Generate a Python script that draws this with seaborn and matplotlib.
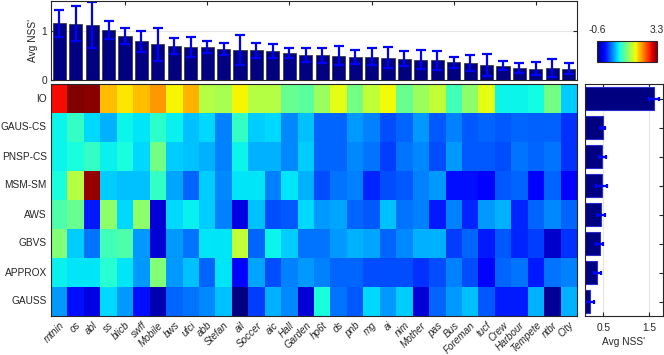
import numpy as np
import pandas as pd
import matplotlib
matplotlib.use('Agg')
import matplotlib.pyplot as plt
import seaborn as sns

sns.set_style('white')
plt.rcParams['font.family'] = ['Liberation Sans', 'DejaVu Sans']
plt.rcParams['text.color'] = '0.15'
plt.rcParams['axes.labelcolor'] = '0.15'
plt.rcParams['xtick.color'] = '0.15'
plt.rcParams['ytick.color'] = '0.15'

sequences = ['mtnin', 'os', 'abl', 'ss', 'blicb', 'swff', 'Mobile', 'bws',
             'ufci', 'abb', 'Stefan', 'ail', 'Soccer', 'aic', 'Hall', 'Garden',
             'hp6t', 'ds', 'pnb', 'mg', 'ai', 'nim', 'Mother', 'pas',
             'Bus', 'Foreman', 'tucf', 'Crew', 'Harbour', 'Tempete', 'ntbr', 'City']
models = ['IO', 'GAUS-CS', 'PNSP-CS', 'MSM-SM', 'AWS', 'GBVS', 'APPROX', 'GAUSS']

# NSS' per model (rows) and sequence (columns)
nss_io = [2.90, 3.30, 3.26, 2.16, 2.00, 2.16, 2.32, 1.94,
          2.21, 1.61, 1.55, 1.94, 1.61, 1.61, 1.25, 1.19,
          1.49, 1.85, 1.31, 1.67, 1.91, 1.25, 1.49, 1.67,
          1.07, 1.43, 1.85, 0.83, 0.83, 0.86, 1.31, 0.67]
nss_gaus_cs = [0.83, 1.01, 0.72, 0.57, 0.83, 0.77, 0.98, 0.81,
               0.62, 0.72, 0.38, 1.01, 0.67, 0.72, 0.42, 0.62,
               0.28, 0.28, 0.47, 0.38, 0.18, 0.28, 0.47, 0.23,
               0.38, 0.23, 0.28, 0.23, 0.28, 0.26, 0.26, 0.08]
nss_pnsp_cs = [0.83, 0.89, 1.01, 0.81, 0.89, 0.72, 1.31, 0.67,
               0.62, 0.57, 0.38, 0.83, 0.57, 0.57, 0.42, 0.67,
               0.28, 0.28, 0.42, 0.33, 0.13, 0.33, 0.42, 0.18,
               0.47, 0.23, 0.23, 0.18, 0.33, 0.28, 0.33, 0.08]
nss_msm_sm = [0.89, 1.61, 3.21, 0.67, 0.62, 0.62, 1.01, 0.52,
              0.28, 0.67, 0.42, 0.77, 0.77, 0.38, 0.77, 0.57,
              0.18, 0.33, 0.38, 0.03, 0.18, 0.23, 0.38, 0.47,
              -0.06, -0.06, -0.11, 0.23, 0.28, -0.11, 0.28, -0.11]
nss_aws = [1.13, 1.25, -0.02, 1.43, 0.72, 1.43, -0.30, 0.72,
           0.81, 0.67, 0.38, -0.26, 0.62, 0.18, 0.23, 0.72,
           0.47, 0.52, 0.28, 0.23, 0.62, 0.33, 0.38, -0.02,
           0.38, 0.03, 0.47, 0.57, 0.03, 0.28, 0.42, 0.28]
nss_gbvs = [1.37, 0.67, 0.33, 1.07, 1.13, 0.47, -0.30, 0.47,
            0.33, 0.77, 0.77, 1.67, 0.28, 0.83, 0.67, 0.33,
            0.33, 0.47, 0.57, 0.52, 0.28, 0.42, 0.57, 0.57,
            0.13, 0.28, -0.02, 0.23, 0.03, 0.13, -0.34, 0.08]
nss_approx = [0.81, 0.77, 0.77, 0.95, 0.77, 0.47, 1.37, 0.47,
              0.62, 0.28, 0.77, -0.09, 0.52, 0.18, 0.38, 0.47,
              0.38, 0.28, 0.28, 0.18, 0.18, 0.18, 0.08, 0.18,
              0.38, 0.18, -0.11, 0.28, 0.33, -0.02, 0.33, 0.38]
nss_gauss = [0.47, -0.06, -0.26, 0.72, 0.47, -0.06, -0.43, 0.28,
             0.33, 0.42, 0.62, -0.60, 0.13, 0.57, 0.42, -0.30,
             0.89, 0.33, 0.23, 0.72, 0.47, 0.67, -0.30, 0.28,
             0.47, 0.62, 0.23, -0.02, -0.02, 0.57, -0.51, 0.57]

# averages over models (top) and over sequences (right)
seq_mean = [1.15, 1.14, 1.11, 1.01, 0.89, 0.78, 0.72, 0.69,
            0.67, 0.67, 0.63, 0.61, 0.60, 0.59, 0.55, 0.51,
            0.50, 0.49, 0.47, 0.47, 0.45, 0.43, 0.41, 0.40,
            0.36, 0.34, 0.31, 0.29, 0.24, 0.23, 0.24, 0.23]
seq_err = [0.27, 0.36, 0.47, 0.18, 0.155, 0.22, 0.34, 0.17,
           0.21, 0.125, 0.12, 0.31, 0.15, 0.14, 0.105, 0.145,
           0.15, 0.19, 0.14, 0.17, 0.21, 0.15, 0.19, 0.19,
           0.11, 0.16, 0.22, 0.095, 0.095, 0.125, 0.18, 0.105]
model_mean = [1.60, 0.485, 0.48, 0.465, 0.445, 0.42, 0.37, 0.21]
model_err = [0.11, 0.06, 0.07, 0.115, 0.085, 0.08, 0.07, 0.08]

df = pd.DataFrame([nss_io, nss_gaus_cs, nss_pnsp_cs, nss_msm_sm,
                   nss_aws, nss_gbvs, nss_approx, nss_gauss],
                  index=models, columns=sequences)

W, H = 664, 355
fig = plt.figure(figsize=(W / 100, H / 100), dpi=100)
ax_top = fig.add_axes([51 / W, 275 / H, 526 / W, 79 / H])
ax_map = fig.add_axes([51 / W, 39 / H, 526 / W, 232 / H])
ax_right = fig.add_axes([585 / W, 39 / H, 78 / W, 232 / H])
ax_cb = fig.add_axes([597 / W, 293 / H, 60 / W, 21 / H])

fs = 7.3
frame = '0.15'

# heatmap
sns.heatmap(df, ax=ax_map, cmap='jet', vmin=-0.6, vmax=3.3, cbar_ax=ax_cb,
            cbar_kws={'orientation': 'horizontal', 'ticks': [-0.6, 3.3]})
for s in ax_map.spines.values():
    s.set_visible(True)
    s.set_color(frame)
    s.set_linewidth(0.8)
ax_map.set_xticks(np.arange(len(sequences)) + 0.5)
ax_map.set_xticklabels(sequences, rotation=45, ha='right', rotation_mode='anchor',
                       fontsize=7.1, style='italic')
ax_map.set_xticks(np.arange(4, len(sequences), 5) + 0.5, minor=True)
ax_map.tick_params(axis='x', which='major', length=0, pad=3)
ax_map.tick_params(axis='x', which='minor', direction='in', length=3,
                   top=True, bottom=True, width=0.8)
ax_map.set_yticks(np.arange(len(models)) + 0.5)
ax_map.set_yticklabels(models, rotation=0, fontsize=fs)
ax_map.tick_params(axis='y', direction='in', length=3, left=True, right=True,
                   width=0.8, pad=3)
ax_map.set_xlabel('')
ax_map.set_ylabel('')

cb = ax_map.collections[0].colorbar
cb.outline.set_linewidth(0.8)
cb.outline.set_edgecolor(frame)
ax_cb.xaxis.set_ticks_position('top')
ax_cb.set_xticklabels(['-0.6', '3.3'])
ax_cb.tick_params(length=0, labelsize=fs, pad=4)

# top bars
sns.barplot(x=sequences, y=seq_mean, ax=ax_top, color='#000080', saturation=1,
            width=0.8, edgecolor='0.25', linewidth=0.6)
ax_top.errorbar(np.arange(len(sequences)), seq_mean, yerr=seq_err, fmt='none',
                ecolor='blue', elinewidth=1.6, capsize=3.8, capthick=1.6,
                clip_on=True)
ax_top.set_xlim(-0.5, len(sequences) - 0.5)
ax_top.set_ylim(0, 1.6)
ax_top.set_yticks([0, 1])
ax_top.set_yticklabels(['0', '1'], fontsize=fs)
ax_top.set_xticks([])
ax_top.set_xticks(np.arange(4, len(sequences), 5), minor=True)
ax_top.tick_params(axis='x', which='minor', direction='in', length=3,
                   top=True, bottom=True, width=0.8)
ax_top.tick_params(axis='y', direction='in', length=3, left=True, right=True,
                   width=0.8, pad=3)
ax_top.yaxis.grid(True, color='0.9', linewidth=0.8)
ax_top.set_axisbelow(True)
ax_top.set_ylabel("Avg NSS'", fontsize=fs, labelpad=2)
ax_top.set_xlabel('')
for s in ax_top.spines.values():
    s.set_visible(True)
    s.set_color(frame)
    s.set_linewidth(0.8)

# right bars
sns.barplot(x=model_mean, y=models, orient='h', ax=ax_right, color='#000080',
            saturation=1, width=0.8, edgecolor='#2b2bd0', linewidth=0.8)
ax_right.errorbar(model_mean, np.arange(len(models)), xerr=model_err, fmt='none',
                  ecolor='blue', elinewidth=1.6, capsize=1.6, capthick=1.6)
ax_right.set_ylim(len(models) - 0.5, -0.5)
ax_right.set_xlim(0.1, 1.8)
ax_right.set_xticks([0.5, 1.5])
ax_right.set_xticklabels(['0.5', '1.5'], fontsize=fs)
ax_right.set_yticks(np.arange(len(models)))
ax_right.set_yticklabels([])
ax_right.tick_params(axis='x', direction='in', length=3, top=True, bottom=True,
                     width=0.8, pad=5)
ax_right.tick_params(axis='y', direction='in', length=3, left=True, right=True,
                     width=0.8)
ax_right.xaxis.grid(True, color='0.9', linewidth=0.8)
ax_right.set_axisbelow(True)
ax_right.set_xlabel("Avg NSS'", fontsize=fs, labelpad=3)
ax_right.set_ylabel('')
for s in ax_right.spines.values():
    s.set_visible(True)
    s.set_color(frame)
    s.set_linewidth(0.8)

fig.savefig('out.png', dpi=100)
